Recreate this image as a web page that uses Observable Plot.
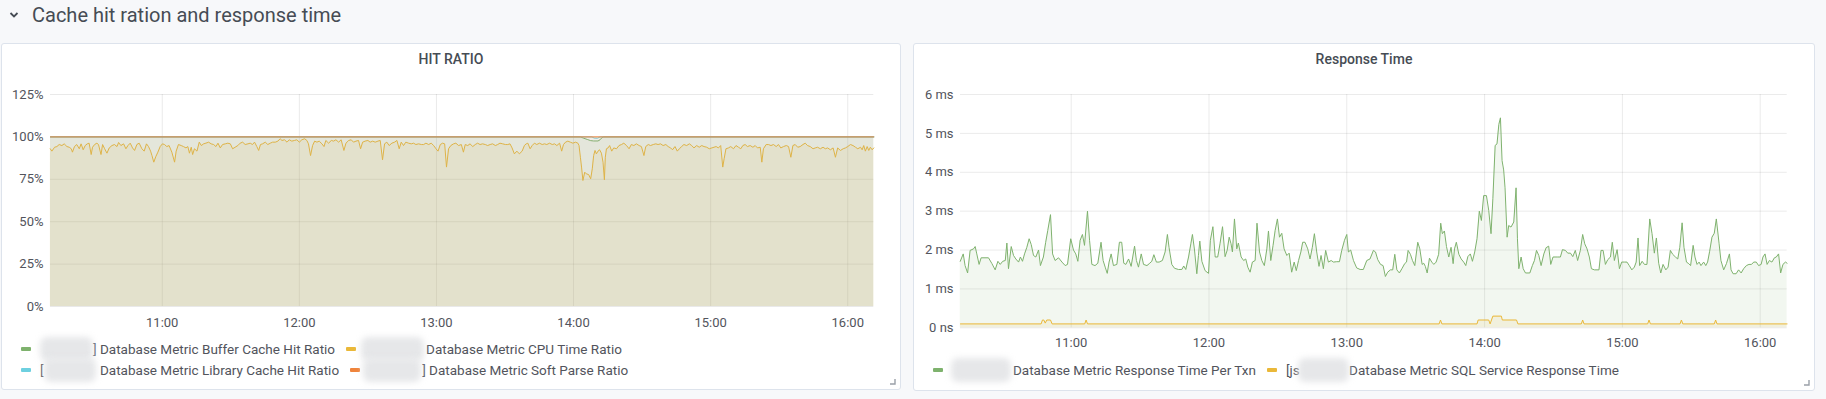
<!DOCTYPE html>
<html><head><meta charset="utf-8">
<script src="https://cdn.jsdelivr.net/npm/d3@7"></script>
<script src="https://cdn.jsdelivr.net/npm/@observablehq/plot@0.6"></script>
<style>
body{margin:0;background:#f7f8fa;font-family:Roboto,"Noto Sans",sans-serif;}
#root{position:relative;width:1826px;height:399px;overflow:hidden;}
.rowtitle{position:absolute;left:32px;top:4.5px;font-size:20px;line-height:20px;color:#464c54;white-space:nowrap}
.chev{position:absolute;left:9px;top:11px}
.panel{position:absolute;background:#fff;border:1px solid #dde3ec;border-radius:3px;box-sizing:border-box}
.ptitle{position:absolute;text-align:center;font-size:14px;line-height:14px;font-weight:500;color:#464c54;white-space:nowrap}
.chart{position:absolute}
.legend{position:absolute;font-size:13.5px;color:#52545c;white-space:nowrap}
.lrow{display:flex;align-items:center;height:21px}
.item{display:flex;align-items:center;margin-right:11px;line-height:16px}
.sw{width:10px;height:4px;border-radius:1px;margin-right:9px;flex:none}
.red{position:relative;display:inline-block;height:16px}
.blur{position:absolute;background:#e6e7e9;filter:blur(3px);border-radius:7px;top:-4px;height:24px}
.handle{position:absolute}
</style></head>
<body><div id="root">
<svg class="chev" width="10" height="8" viewBox="0 0 10 8"><polyline points="1.5,2 5,5.5 8.5,2" fill="none" stroke="#464c54" stroke-width="1.8"/></svg>
<div class="rowtitle">Cache hit ration and response time</div>
<div class="panel" style="left:1px;top:43px;width:900px;height:347px"></div>
<div class="panel" style="left:913px;top:43px;width:902px;height:348px"></div>
<div class="ptitle" style="left:1px;width:900px;top:52.2px">HIT RATIO</div>
<div class="ptitle" style="left:913px;width:902px;top:52.2px">Response Time</div>
<div id="c1" class="chart" style="left:1px;top:80px"></div>
<div id="c2" class="chart" style="left:913px;top:80px"></div>
<div id="l1" class="legend" style="left:21px;top:338.8px"></div>
<div id="l2" class="legend" style="left:933px;top:359.5px"></div>
<svg class="handle" style="left:889px;top:378px" width="7" height="7"><path d="M6 1 L6 6 L1 6" fill="none" stroke="#9aa0a8" stroke-width="1.4"/></svg>
<svg class="handle" style="left:1803px;top:379px" width="7" height="7"><path d="M6 1 L6 6 L1 6" fill="none" stroke="#9aa0a8" stroke-width="1.4"/></svg>
</div>
<script>
// ---- data: [minutes since 10:00, value] ----
const hours = ["11:00","12:00","13:00","14:00","15:00","16:00"];
const ratioTicks = [0, 25, 50, 75, 100, 125];
const msTicks = [0, 1, 2, 3, 4, 5, 6];

const bufferCacheHit = [[11.1,100],[243.0,100],[244.5,99.2],[246.0,98.5],[247.5,97.8],[248.8,97.6],[250.7,97.6],[251.6,98.3],[252.5,99.6],[253.2,100],[371.4,100]];
const libraryCacheHit = [[11.1,100],[248.0,100],[249.0,99.3],[250.5,99.2],[251.6,100],[371.4,100]];
const softParse = [[11.1,100],[371.4,100]];
const cpuTime = [[11.0,93.0],[11.7,91.6],[12.9,93.9],[13.9,94.3],[14.9,95.5],[16.1,94.9],[17.1,95.9],[18.3,94.3],[19.3,93.9],[20.2,93.0],[20.7,91.0],[21.6,94.3],[22.6,95.5],[23.7,93.0],[24.5,95.9],[25.4,92.4],[26.3,94.9],[27.2,95.9],[28.0,96.3],[28.9,89.6],[29.5,93.9],[30.4,95.5],[31.4,96.3],[32.1,95.5],[33.2,89.6],[33.9,95.5],[34.8,93.0],[35.8,90.4],[36.8,93.5],[38.0,94.9],[39.1,95.5],[40.2,94.3],[40.9,96.7],[41.9,94.9],[43.1,95.9],[44.1,93.0],[45.0,94.9],[46.0,96.3],[47.0,93.5],[47.9,92.0],[48.9,95.5],[49.9,96.3],[51.1,93.0],[52.1,91.6],[53.1,95.9],[54.0,94.3],[54.9,91.6],[55.5,89.0],[56.3,85.1],[57.2,88.4],[58.1,91.0],[59.1,94.3],[60.1,95.9],[61.0,95.5],[62.0,94.3],[63.0,94.9],[64.2,91.0],[65.4,85.1],[66.1,91.6],[67.1,95.5],[68.3,94.9],[69.3,94.3],[70.4,93.5],[71.2,94.3],[71.9,90.4],[72.7,93.9],[73.3,89.6],[74.1,93.0],[75.2,91.6],[76.2,96.9],[77.1,94.9],[78.1,95.9],[79.1,96.3],[80.3,96.9],[81.4,95.9],[82.5,95.5],[83.5,94.3],[84.4,96.3],[85.4,93.5],[86.4,95.5],[87.6,95.9],[88.7,96.3],[89.8,95.9],[90.8,93.0],[91.9,93.9],[93.1,94.9],[94.1,96.3],[95.2,96.9],[96.3,95.5],[97.5,95.9],[98.5,96.3],[99.5,95.5],[100.4,96.9],[101.4,94.3],[102.2,92.0],[103.0,95.5],[103.9,95.9],[105.1,96.9],[106.2,95.5],[107.3,96.3],[108.3,96.9],[109.5,96.9],[110.6,97.5],[111.6,98.9],[112.4,97.9],[113.5,98.3],[114.6,96.9],[115.6,98.3],[116.7,97.5],[117.9,97.9],[118.9,98.3],[120.0,96.9],[121.1,98.3],[122.3,98.9],[123.3,97.9],[124.0,95.9],[124.9,89.0],[125.8,94.9],[126.7,97.5],[127.7,96.9],[128.7,97.5],[129.9,95.9],[130.8,94.3],[131.6,97.9],[132.8,96.3],[134.0,97.9],[135.0,97.5],[136.0,98.3],[137.2,96.9],[138.3,98.3],[139.5,92.0],[140.4,96.3],[141.6,97.9],[142.7,98.3],[143.7,96.9],[144.8,97.5],[145.9,97.9],[146.8,93.0],[147.7,96.9],[148.8,97.5],[150.0,97.9],[151.0,96.9],[152.1,97.5],[153.2,96.9],[154.4,97.5],[155.4,97.9],[156.4,86.5],[157.3,95.9],[158.3,96.9],[159.3,94.9],[160.5,96.3],[161.7,96.9],[162.7,97.9],[163.7,93.0],[164.6,96.9],[165.6,94.9],[166.6,96.9],[167.8,96.3],[169.0,95.9],[170.0,96.3],[171.0,95.5],[172.2,95.9],[173.4,95.5],[174.4,95.5],[175.4,96.3],[176.6,95.5],[177.7,96.3],[178.8,94.9],[179.8,93.0],[180.7,91.6],[181.7,95.5],[182.7,96.3],[183.6,95.9],[184.4,82.2],[185.3,93.0],[186.3,94.9],[187.5,95.9],[188.5,96.3],[189.7,94.9],[190.9,95.5],
[191.8,91.0],[192.6,95.5],[193.7,94.9],[194.7,95.9],[195.9,94.3],[197.0,95.5],[198.0,96.3],[199.1,95.5],[200.2,95.9],[201.4,95.5],[202.4,94.9],[203.5,95.5],[204.6,95.9],[205.8,94.9],[206.8,95.5],[207.8,96.3],[209.0,95.9],[210.2,95.5],[211.2,95.5],[212.2,95.9],[213.1,93.5],[214.1,90.0],[215.2,91.6],[216.3,90.0],[217.5,91.6],[218.5,94.9],[219.3,95.9],[220.0,96.3],[221.0,93.0],[221.9,94.9],[222.9,96.3],[223.9,95.5],[225.1,96.3],[226.3,95.5],[227.3,95.9],[228.3,95.5],[229.5,96.3],[230.7,95.5],[231.7,95.9],[232.7,94.9],[233.9,96.3],[234.8,91.6],[235.6,95.5],[236.5,96.9],[237.5,97.5],[238.6,96.9],[239.7,96.3],[240.9,96.9],[241.9,96.3],[242.4,94.9],[243.0,88.0],[243.5,82.2],[244.1,74.3],[244.9,79.2],[245.6,78.2],[246.6,77.8],[247.5,75.3],[248.2,81.2],[248.8,89.0],[249.4,92.0],[250.0,90.0],[250.7,91.6],[251.4,92.4],[252.2,90.4],[252.9,85.1],[253.5,74.7],[253.9,88.0],[254.4,93.0],[255.1,93.5],[255.8,94.9],[256.7,91.6],[257.6,93.5],[258.8,93.0],[259.9,94.9],[261.0,95.5],[262.0,96.3],[263.2,94.9],[264.3,93.0],[265.3,95.5],[266.4,94.9],[267.5,95.9],[268.7,94.9],[269.7,94.3],[270.8,89.0],[271.6,94.3],[272.7,95.5],[273.7,94.9],[274.9,95.5],[276.0,95.9],[277.0,95.5],[278.1,95.9],[279.2,94.9],[280.4,95.5],[281.4,94.3],[282.5,93.5],[283.3,92.4],[284.4,94.3],[285.4,91.6],[286.3,93.0],[287.3,94.3],[288.3,95.5],[289.5,94.9],[290.7,95.9],[291.7,94.9],[292.7,93.5],[293.9,94.9],[295.0,93.9],[296.1,94.9],[297.1,94.3],[298.3,93.9],[299.4,93.0],[300.5,93.5],[301.5,93.9],[302.4,94.3],[303.4,93.5],[304.4,94.9],[305.3,82.2],[305.9,87.1],[306.7,93.0],[307.8,93.5],[308.8,94.3],[310.0,93.0],[311.1,94.9],[312.2,93.9],[313.2,93.0],[314.1,94.9],[315.1,95.5],[316.1,94.3],[317.3,94.9],[318.5,93.9],[319.5,94.9],[320.5,93.5],[321.7,93.9],[322.4,85.1],[323.1,93.0],[324.3,95.5],[325.3,95.5],[326.4,94.9],[327.5,95.5],[328.7,94.3],[329.7,95.5],[330.7,93.5],[331.9,94.3],[333.1,94.9],[334.1,94.3],[335.1,88.0],[336.0,94.9],[337.0,95.5],[338.1,93.9],[339.2,94.3],[340.4,95.5],[341.4,96.3],[342.4,94.9],[343.6,94.3],[344.8,93.0],[345.8,93.5],[346.8,93.9],[348.0,93.0],[349.2,93.9],[350.2,93.0],[351.2,93.5],[352.4,92.4],[353.6,93.5],[354.6,88.0],[355.6,93.5],[356.8,92.0],[358.0,93.0],[359.0,93.5],[360.0,94.3],[361.2,95.5],[362.3,94.9],[363.4,93.9],[364.4,93.0],[365.6,93.9],[366.3,92.4],[367.0,94.9],[367.7,91.6],[368.5,94.3],[369.2,92.0],[369.9,93.9],[370.7,92.4],[371.4,93.5]];

const responsePerTxn = [[11.7,1.71],[13.0,1.90],[13.8,1.60],[14.9,1.41],[16.0,1.99],[17.5,2.03],[18.2,2.09],[18.9,1.90],[19.9,1.63],[20.8,1.80],[24.0,1.80],[25.5,1.65],[26.9,1.49],[28.1,1.71],[29.1,1.63],[30.2,1.71],[31.3,1.73],[32.0,2.18],[32.7,1.52],[33.9,2.09],[34.9,1.86],[35.9,1.77],[37.1,1.69],[37.9,1.82],[38.8,1.71],[39.7,1.90],[40.7,2.07],[41.7,2.29],[42.6,2.14],[43.6,1.86],[44.6,1.82],[45.8,2.00],[46.6,1.60],[47.9,1.82],[48.9,2.20],[49.8,2.50],[51.0,2.91],[51.9,1.90],[53.0,1.73],[54.5,1.80],[56.0,1.69],[57.4,1.60],[58.4,1.63],[59.8,2.29],[61.0,2.00],[62.0,1.90],[62.9,1.71],[63.9,2.25],[64.9,2.40],[65.8,2.12],[67.1,3.00],[68.0,2.25],[69.0,1.63],[70.4,1.60],[71.6,1.66],[73.0,2.20],[73.9,1.73],[74.8,1.56],[75.7,1.40],[76.5,1.69],[77.4,1.90],[78.4,1.60],[79.9,1.63],[81.0,2.20],[82.0,2.20],[82.9,1.66],[83.8,1.63],[85.0,1.77],[86.1,1.58],[87.6,2.10],[88.4,1.73],[89.3,1.56],[90.5,1.90],[91.5,1.63],[93.0,1.60],[94.0,1.65],[95.1,1.71],[96.0,1.88],[97.1,1.69],[98.3,1.69],[99.7,1.73],[100.9,1.95],[101.9,2.40],[102.6,2.07],[103.8,1.63],[105.0,1.53],[106.7,1.50],[108.2,1.50],[109.0,1.59],[109.9,1.50],[111.1,1.82],[112.1,2.16],[112.8,2.40],[113.7,2.00],[114.7,1.39],[115.4,1.86],[116.0,2.23],[116.9,1.71],[118.3,1.47],[119.8,1.40],[120.6,2.25],[121.7,2.60],[122.7,1.82],[123.8,1.82],[124.8,2.16],[125.9,2.60],[127.0,1.83],[127.9,1.99],[128.8,2.33],[129.6,2.16],[130.2,1.95],[131.1,2.80],[132.1,2.03],[132.8,2.18],[134.0,1.82],[135.1,1.73],[136.0,1.77],[136.9,1.56],[137.9,1.43],[138.9,1.69],[140.1,1.73],[140.9,2.69],[142.0,1.95],[143.0,1.73],[144.1,1.60],[145.2,2.03],[145.9,2.49],[146.9,1.73],[147.9,2.12],[148.8,2.50],[149.8,2.80],[150.7,2.33],[151.7,2.43],[152.7,2.03],[153.9,1.86],[154.9,1.92],[156.0,1.43],[157.1,1.69],[158.0,1.47],[159.0,1.73],[160.0,1.95],[160.8,2.20],[161.8,2.20],[163.0,2.03],[164.0,1.77],[165.0,2.07],[165.9,2.42],[166.9,1.95],[167.9,1.58],[168.8,1.86],[169.8,1.52],[170.8,1.99],[172.0,1.69],[173.2,1.73],[174.2,1.69],[175.6,1.70],[176.8,1.70],[177.8,1.99],[179.0,2.25],[180.0,2.40],[180.7,1.95],[181.7,2.00],[182.9,1.73],[184.3,1.54],[185.8,1.50],[187.2,1.50],[188.7,1.73],[190.1,1.77],[191.6,1.99],
[192.5,1.95],[193.5,1.75],[194.7,1.63],[195.8,1.60],[196.8,1.32],[197.8,1.43],[199.0,1.49],[200.0,1.49],[200.9,1.89],[201.8,1.49],[202.9,1.41],[204.1,1.53],[205.2,1.65],[206.0,1.69],[206.7,1.99],[207.7,1.89],[208.6,1.73],[209.6,1.60],[210.9,2.20],[211.8,2.03],[212.8,1.63],[213.5,1.66],[214.2,1.58],[215.0,1.41],[216.0,1.79],[217.0,1.69],[217.9,1.63],[218.9,1.69],[220.0,1.89],[220.9,2.69],[221.6,2.42],[222.5,2.49],[223.4,2.09],[224.4,1.82],[225.4,2.07],[226.3,1.65],[226.9,2.03],[227.7,2.20],[228.8,1.89],[229.8,1.77],[230.9,1.69],[231.8,1.60],[232.7,1.83],[233.8,1.90],[234.7,1.71],[235.7,1.95],[236.7,2.29],[237.7,3.00],[238.6,2.76],[239.6,3.40],[240.8,3.40],[241.8,3.02],[242.8,2.42],[243.6,3.32],[244.6,4.69],[245.4,4.73],[246.2,5.23],[246.9,5.40],[247.6,4.30],[248.3,4.06],[248.9,3.60],[249.8,2.33],[250.5,2.63],[251.5,2.59],[252.7,2.72],[253.7,3.60],[254.3,2.29],[254.9,1.52],[255.9,1.82],[256.8,1.52],[257.8,1.41],[259.7,1.41],[260.8,1.60],[261.7,1.73],[262.6,1.99],[263.6,1.86],[264.6,1.60],[265.8,1.90],[266.8,2.06],[267.9,2.10],[268.8,1.63],[269.8,1.82],[271.6,1.82],[273.0,1.82],[273.9,2.01],[275.2,1.99],[276.2,1.92],[277.4,1.92],[278.4,1.83],[279.5,1.99],[280.5,1.73],[281.7,1.99],[282.7,2.40],[283.6,2.16],[284.6,2.03],[285.6,1.82],[286.5,1.52],[287.8,1.49],[289.8,1.49],[290.7,1.99],[291.6,1.99],[292.6,1.63],[293.6,1.75],[294.8,1.82],[295.6,2.20],[296.5,1.73],[297.7,2.01],[298.7,1.52],[299.7,1.69],[300.9,1.69],[302.0,1.69],[303.0,1.60],[304.1,1.49],[305.2,1.56],[306.0,1.69],[306.8,2.31],[307.5,1.60],[308.6,1.71],[309.6,1.63],[310.7,1.63],[311.9,2.80],[312.9,2.42],[313.9,1.92],[314.8,2.31],[315.8,1.66],[316.7,1.41],[317.7,1.63],[318.9,1.49],[319.9,1.56],[320.9,1.99],[321.9,1.89],[323.1,1.82],[324.1,1.77],[325.0,2.07],[326.0,2.70],[326.8,2.07],[327.9,1.69],[328.9,1.65],[329.7,1.60],[330.8,2.12],[331.6,1.82],[332.5,1.63],[333.4,1.69],[334.2,1.60],[335.4,1.69],[336.3,1.60],[337.1,1.69],[338.0,1.97],[339.0,2.33],[340.0,2.43],[340.9,2.80],[342.1,2.16],[342.9,1.73],[344.1,1.49],[345.3,1.65],[346.6,1.90],[347.3,1.49],[348.2,1.39],[349.5,1.39],[350.6,1.49],[351.7,1.41],[352.8,1.52],[354.0,1.60],[355.1,1.63],[356.2,1.63],[357.2,1.69],[358.3,1.69],[359.3,1.60],[360.4,1.63],[361.2,1.82],[362.1,1.90],[363.0,1.63],[364.0,1.73],[365.1,1.69],[366.2,1.80],[367.0,1.82],[368.0,1.90],[368.9,1.41],[369.9,1.63],[371.0,1.69],[371.7,1.66]];

const sqlServiceResponse = [[11.8,0.1],[46.9,0.1],[47.5,0.2],[48.1,0.2],[48.7,0.12],[49.4,0.2],[51.0,0.2],[51.7,0.1],[65.9,0.1],[66.5,0.2],[67.1,0.1],[220.2,0.1],[220.8,0.2],[221.4,0.1],[236.7,0.1],[237.2,0.2],[241.8,0.2],[242.4,0.1],[243.6,0.3],[247.3,0.3],[247.7,0.2],[253.9,0.2],[254.5,0.1],[282.1,0.1],[282.7,0.2],[283.3,0.1],[311.0,0.1],[311.6,0.2],[312.2,0.1],[325.1,0.1],[325.7,0.2],[326.3,0.1],[340.0,0.1],[340.6,0.2],[341.2,0.1],[371.7,0.1]];

const legendLeft = [
  [{name:"Database Metric Buffer Cache Hit Ratio", color:"#7EB26D", pre:"]\u00a0", align:"right", w:60, bl:0, bw:53},
   {name:"Database Metric CPU Time Ratio", color:"#EAB839", pre:"", align:"right", w:61, bl:-4, bw:63}],
  [{name:"Database Metric Library Cache Hit Ratio", color:"#6ED0E0", pre:"[", align:"left", w:60, bl:4, bw:52},
   {name:"Database Metric Soft Parse Ratio", color:"#EF843C", pre:"]\u00a0", align:"right", w:60, bl:-6, bw:58}]
];
const legendRight = [
  [{name:"Database Metric Response Time Per Txn", color:"#7EB26D", pre:"", align:"right", w:61, bl:-1, bw:60},
   {name:"Database Metric SQL Service Response Time", color:"#EAB839", pre:"[js", align:"left", w:63, bl:12, bw:51}]
];

// ---- helpers ----
const base = Date.UTC(2024, 0, 1, 10, 0, 0);
const toDate = m => new Date(base + m * 60000);
const rows = s => s.map(([m, v]) => ({date: toDate(m), value: v}));
const hourTicks = hours.map(h => { const [hh, mm] = h.split(":").map(Number); return toDate((hh - 10) * 60 + mm); });
const fmt = d3.utcFormat("%H:%M");
const gridStyle = {stroke: "#000", strokeOpacity: 0.085, strokeWidth: 1};
const fontStyle = {fontFamily: "Roboto", fontSize: "13px", color: "#52545c", background: "transparent", overflow: "visible"};

function seriesMarks(data, color) {
  const d = rows(data);
  return [
    Plot.areaY(d, {x: "date", y: "value", fill: color, fillOpacity: 0.1}),
    Plot.lineY(d, {x: "date", y: "value", stroke: color, strokeWidth: 1})
  ];
}

const chart1 = Plot.plot({
  width: 900, height: 260,
  marginTop: 14, marginBottom: 34, marginLeft: 49, marginRight: 27.7,
  style: fontStyle,
  x: {type: "utc", domain: [toDate(11.1), toDate(371.4)], ticks: hourTicks, tickFormat: fmt, tickSize: 0, tickPadding: 11.5, label: null},
  y: {domain: [0, 125], ticks: ratioTicks, tickFormat: d => d + "%", tickSize: 0, tickPadding: 7, label: null},
  marks: [
    Plot.ruleY(ratioTicks, gridStyle),
    Plot.ruleX(hourTicks, gridStyle),
    ...seriesMarks(bufferCacheHit, "#7EB26D"),
    ...seriesMarks(cpuTime, "#EAB839"),
    ...seriesMarks(libraryCacheHit, "#6ED0E0"),
    ...seriesMarks(softParse, "#EF843C")
  ]
});
document.getElementById("c1").appendChild(chart1);

const chart2 = Plot.plot({
  width: 902, height: 275.3,
  marginTop: 14, marginBottom: 28, marginLeft: 47, marginRight: 28.3,
  style: fontStyle,
  x: {type: "utc", domain: [toDate(11.81), toDate(371.75)], ticks: hourTicks, tickFormat: fmt, tickSize: 0, tickPadding: 10, label: null},
  y: {domain: [0, 6], ticks: msTicks, tickFormat: d => d === 0 ? "0 ns" : d + " ms", tickSize: 0, tickPadding: 7, label: null},
  marks: [
    Plot.ruleY(msTicks, gridStyle),
    Plot.ruleX(hourTicks, gridStyle),
    ...seriesMarks(responsePerTxn, "#7EB26D"),
    ...seriesMarks(sqlServiceResponse, "#EAB839")
  ]
});
document.getElementById("c2").appendChild(chart2);

function buildLegend(el, spec) {
  for (const r of spec) {
    const row = document.createElement("div");
    row.className = "lrow";
    for (const it of r) {
      const item = document.createElement("div");
      item.className = "item";
      const sw = document.createElement("span");
      sw.className = "sw"; sw.style.background = it.color;
      const red = document.createElement("span");
      red.className = "red";
      red.style.width = it.w + "px"; red.style.textAlign = it.align;
      red.textContent = it.pre;
      const bl = document.createElement("span");
      bl.className = "blur"; bl.style.left = it.bl + "px"; bl.style.width = it.bw + "px";
      red.appendChild(bl);
      const tx = document.createElement("span");
      tx.textContent = it.name;
      item.append(sw, red, tx);
      row.appendChild(item);
    }
    el.appendChild(row);
  }
}
buildLegend(document.getElementById("l1"), legendLeft);
buildLegend(document.getElementById("l2"), legendRight);
</script>
</body></html>
